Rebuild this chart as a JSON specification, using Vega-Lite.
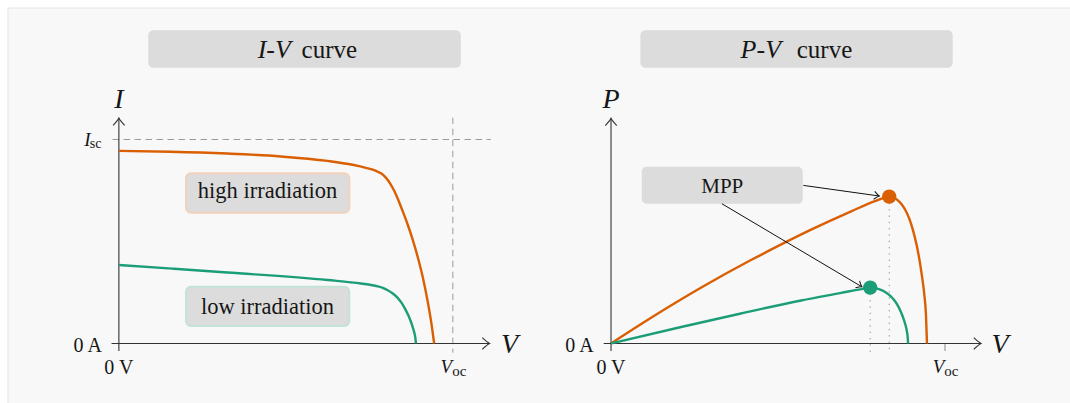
{
  "$schema": "https://vega.github.io/schema/vega-lite/v6.json",
  "background": "#ffffff",
  "padding": {"left": 7, "top": 7, "right": 0, "bottom": 0},
  "spacing": 0,
  "bounds": "flush",
  "config": {
    "view": {"fill": "#f8f8f8", "stroke": null},
    "text": {"font": "Liberation Serif", "color": "#161616"},
    "concat": {"spacing": 0}
  },
  "data": {"values": [{}]},
  "datasets": {
    "iv": [
      {"series": "high irradiation", "V": 0, "I": 0.944},
      {"series": "high irradiation", "V": 0.156, "I": 0.94},
      {"series": "high irradiation", "V": 0.325, "I": 0.931},
      {"series": "high irradiation", "V": 0.485, "I": 0.917},
      {"series": "high irradiation", "V": 0.625, "I": 0.895},
      {"series": "high irradiation", "V": 0.7, "I": 0.876},
      {"series": "high irradiation", "V": 0.74, "I": 0.861},
      {"series": "high irradiation", "V": 0.77, "I": 0.846},
      {"series": "high irradiation", "V": 0.785, "I": 0.834},
      {"series": "high irradiation", "V": 0.8, "I": 0.812},
      {"series": "high irradiation", "V": 0.812, "I": 0.785},
      {"series": "high irradiation", "V": 0.824, "I": 0.75},
      {"series": "high irradiation", "V": 0.836, "I": 0.706},
      {"series": "high irradiation", "V": 0.85, "I": 0.648},
      {"series": "high irradiation", "V": 0.865, "I": 0.582},
      {"series": "high irradiation", "V": 0.88, "I": 0.508},
      {"series": "high irradiation", "V": 0.895, "I": 0.423},
      {"series": "high irradiation", "V": 0.91, "I": 0.325},
      {"series": "high irradiation", "V": 0.924, "I": 0.212},
      {"series": "high irradiation", "V": 0.935, "I": 0.107},
      {"series": "high irradiation", "V": 0.944, "I": 0},
      {"series": "low irradiation", "V": 0, "I": 0.385},
      {"series": "low irradiation", "V": 0.16, "I": 0.367},
      {"series": "low irradiation", "V": 0.325, "I": 0.348},
      {"series": "low irradiation", "V": 0.625, "I": 0.311},
      {"series": "low irradiation", "V": 0.725, "I": 0.294},
      {"series": "low irradiation", "V": 0.775, "I": 0.28},
      {"series": "low irradiation", "V": 0.79, "I": 0.273},
      {"series": "low irradiation", "V": 0.805, "I": 0.261},
      {"series": "low irradiation", "V": 0.82, "I": 0.245},
      {"series": "low irradiation", "V": 0.834, "I": 0.225},
      {"series": "low irradiation", "V": 0.846, "I": 0.2},
      {"series": "low irradiation", "V": 0.857, "I": 0.17},
      {"series": "low irradiation", "V": 0.867, "I": 0.137},
      {"series": "low irradiation", "V": 0.878, "I": 0.09},
      {"series": "low irradiation", "V": 0.884, "I": 0.057},
      {"series": "low irradiation", "V": 0.8875, "I": 0.03},
      {"series": "low irradiation", "V": 0.8895, "I": 0}
    ],
    "pv": [
      {"series": "high irradiation", "V": 0, "P": 0},
      {"series": "high irradiation", "V": 0.12, "P": 0.126},
      {"series": "high irradiation", "V": 0.269, "P": 0.273},
      {"series": "high irradiation", "V": 0.419, "P": 0.409},
      {"series": "high irradiation", "V": 0.473, "P": 0.455},
      {"series": "high irradiation", "V": 0.599, "P": 0.558},
      {"series": "high irradiation", "V": 0.719, "P": 0.648},
      {"series": "high irradiation", "V": 0.79, "P": 0.698},
      {"series": "high irradiation", "V": 0.817, "P": 0.714},
      {"series": "high irradiation", "V": 0.833, "P": 0.72},
      {"series": "high irradiation", "V": 0.845, "P": 0.716},
      {"series": "high irradiation", "V": 0.858, "P": 0.703},
      {"series": "high irradiation", "V": 0.87, "P": 0.683},
      {"series": "high irradiation", "V": 0.882, "P": 0.652},
      {"series": "high irradiation", "V": 0.893, "P": 0.612},
      {"series": "high irradiation", "V": 0.904, "P": 0.556},
      {"series": "high irradiation", "V": 0.914, "P": 0.49},
      {"series": "high irradiation", "V": 0.923, "P": 0.415},
      {"series": "high irradiation", "V": 0.931, "P": 0.33},
      {"series": "high irradiation", "V": 0.938, "P": 0.24},
      {"series": "high irradiation", "V": 0.943, "P": 0.14},
      {"series": "high irradiation", "V": 0.946, "P": 0},
      {"series": "low irradiation", "V": 0, "P": 0},
      {"series": "low irradiation", "V": 0.21, "P": 0.081},
      {"series": "low irradiation", "V": 0.389, "P": 0.147},
      {"series": "low irradiation", "V": 0.569, "P": 0.211},
      {"series": "low irradiation", "V": 0.689, "P": 0.248},
      {"series": "low irradiation", "V": 0.754, "P": 0.268},
      {"series": "low irradiation", "V": 0.776, "P": 0.274},
      {"series": "low irradiation", "V": 0.788, "P": 0.2725},
      {"series": "low irradiation", "V": 0.8, "P": 0.268},
      {"series": "low irradiation", "V": 0.812, "P": 0.26},
      {"series": "low irradiation", "V": 0.824, "P": 0.249},
      {"series": "low irradiation", "V": 0.836, "P": 0.234},
      {"series": "low irradiation", "V": 0.847, "P": 0.214},
      {"series": "low irradiation", "V": 0.857, "P": 0.19},
      {"series": "low irradiation", "V": 0.866, "P": 0.162},
      {"series": "low irradiation", "V": 0.874, "P": 0.13},
      {"series": "low irradiation", "V": 0.88, "P": 0.1},
      {"series": "low irradiation", "V": 0.885, "P": 0.067},
      {"series": "low irradiation", "V": 0.888, "P": 0.035},
      {"series": "low irradiation", "V": 0.8895, "P": 0}
    ],
    "mpp": [
      {"series": "high irradiation", "V": 0.833, "P": 0.72},
      {"series": "low irradiation", "V": 0.776, "P": 0.274}
    ]
  },
  "hconcat": [
    {
      "width": 528,
      "height": 396,
      "layer": [
        {"mark": {"type": "rule", "stroke": "#e4e4e4", "strokeWidth": 1},
         "encoding": {"x": {"datum": -0.332, "type": "quantitative", "scale": {"domain": [-0.332, 1.249], "nice": false, "zero": false}, "axis": null},
                      "y": {"datum": -0.2966, "type": "quantitative", "scale": {"domain": [-0.2966, 1.6446], "nice": false, "zero": false}, "axis": null},
                      "y2": {"datum": 1.6446}}},
        {"mark": {"type": "rule", "stroke": "#e4e4e4", "strokeWidth": 1},
         "encoding": {"x": {"datum": -0.332, "type": "quantitative", "scale": {"domain": [-0.332, 1.249], "nice": false, "zero": false}, "axis": null},
                      "x2": {"datum": 1.249},
                      "y": {"datum": 1.6446, "type": "quantitative", "scale": {"domain": [-0.2966, 1.6446], "nice": false, "zero": false}, "axis": null}}},
        {"mark": {"type": "rect", "fill": "#dcdcdc", "cornerRadius": 5},
         "encoding": {"x": {"datum": 0.088, "type": "quantitative", "scale": {"domain": [-0.332, 1.249], "nice": false, "zero": false}, "axis": null},
                      "x2": {"datum": 1.024},
                      "y": {"datum": 1.535, "type": "quantitative", "scale": {"domain": [-0.2966, 1.6446], "nice": false, "zero": false}, "axis": null},
                      "y2": {"datum": 1.352}}},
        {"mark": {"type": "rect", "fill": "#dcdcdc", "cornerRadius": 5, "stroke": "#f3d2ba", "strokeWidth": 2},
         "encoding": {"x": {"datum": 0.201, "type": "quantitative", "scale": {"domain": [-0.332, 1.249], "nice": false, "zero": false}, "axis": null},
                      "x2": {"datum": 0.69},
                      "y": {"datum": 0.834, "type": "quantitative", "scale": {"domain": [-0.2966, 1.6446], "nice": false, "zero": false}, "axis": null},
                      "y2": {"datum": 0.641}}},
        {"mark": {"type": "rect", "fill": "#dcdcdc", "cornerRadius": 5, "stroke": "#c3e3d8", "strokeWidth": 2},
         "encoding": {"x": {"datum": 0.201, "type": "quantitative", "scale": {"domain": [-0.332, 1.249], "nice": false, "zero": false}, "axis": null},
                      "x2": {"datum": 0.69},
                      "y": {"datum": 0.278, "type": "quantitative", "scale": {"domain": [-0.2966, 1.6446], "nice": false, "zero": false}, "axis": null},
                      "y2": {"datum": 0.086}}},
        {"mark": {"type": "rule", "stroke": "#9a9a9a", "strokeWidth": 1, "strokeDash": [6.5, 4.5]},
         "encoding": {"x": {"datum": -0.019, "type": "quantitative", "scale": {"domain": [-0.332, 1.249], "nice": false, "zero": false}, "axis": null},
                      "x2": {"datum": 1.114},
                      "y": {"datum": 1.0, "type": "quantitative", "scale": {"domain": [-0.2966, 1.6446], "nice": false, "zero": false}, "axis": null}}},
        {"mark": {"type": "rule", "stroke": "#9a9a9a", "strokeWidth": 1, "strokeDash": [6.5, 4.5]},
         "encoding": {"x": {"datum": 1.0, "type": "quantitative", "scale": {"domain": [-0.332, 1.249], "nice": false, "zero": false}, "axis": null},
                      "y": {"datum": 1.107, "type": "quantitative", "scale": {"domain": [-0.2966, 1.6446], "nice": false, "zero": false}, "axis": null},
                      "y2": {"datum": -0.045}}},
        {"mark": {"type": "rule", "stroke": "#333333", "strokeWidth": 1.1},
         "encoding": {"x": {"datum": -0.022, "type": "quantitative", "scale": {"domain": [-0.332, 1.249], "nice": false, "zero": false}, "axis": null},
                      "x2": {"datum": 1.11},
                      "y": {"datum": 0, "type": "quantitative", "scale": {"domain": [-0.2966, 1.6446], "nice": false, "zero": false}, "axis": null}}},
        {"mark": {"type": "rule", "stroke": "#333333", "strokeWidth": 1.1},
         "encoding": {"x": {"datum": 0, "type": "quantitative", "scale": {"domain": [-0.332, 1.249], "nice": false, "zero": false}, "axis": null},
                      "y": {"datum": -0.037, "type": "quantitative", "scale": {"domain": [-0.2966, 1.6446], "nice": false, "zero": false}, "axis": null},
                      "y2": {"datum": 1.105}}},
        {"mark": {"type": "point", "shape": "M-1.26,-1Q-0.45,-0.22,0,0Q-0.45,0.22,-1.26,1", "filled": false, "stroke": "#333333", "strokeWidth": 1.1, "size": 134, "angle": 0, "opacity": 1},
         "encoding": {"x": {"datum": 1.11, "type": "quantitative", "scale": {"domain": [-0.332, 1.249], "nice": false, "zero": false}, "axis": null},
                      "y": {"datum": 0, "type": "quantitative", "scale": {"domain": [-0.2966, 1.6446], "nice": false, "zero": false}, "axis": null}}},
        {"mark": {"type": "point", "shape": "M-1.26,-1Q-0.45,-0.22,0,0Q-0.45,0.22,-1.26,1", "filled": false, "stroke": "#333333", "strokeWidth": 1.1, "size": 134, "angle": 270, "opacity": 1},
         "encoding": {"x": {"datum": 0, "type": "quantitative", "scale": {"domain": [-0.332, 1.249], "nice": false, "zero": false}, "axis": null},
                      "y": {"datum": 1.105, "type": "quantitative", "scale": {"domain": [-0.2966, 1.6446], "nice": false, "zero": false}, "axis": null}}},
        {"data": {"name": "iv"},
         "mark": {"type": "line", "interpolate": "monotone", "strokeWidth": 2.4},
         "encoding": {"x": {"field": "V", "type": "quantitative", "scale": {"domain": [-0.332, 1.249], "nice": false, "zero": false}, "axis": null},
                      "y": {"field": "I", "type": "quantitative", "scale": {"domain": [-0.2966, 1.6446], "nice": false, "zero": false}, "axis": null},
                      "color": {"field": "series", "type": "nominal", "scale": {"domain": ["high irradiation", "low irradiation"], "range": ["#d95f02", "#1b9e77"]}, "legend": null}}},
        {"mark": {"type": "text", "fontSize": 28, "fontStyle": "italic", "align": "center", "baseline": "alphabetic"},
         "encoding": {"x": {"datum": 0, "type": "quantitative", "scale": {"domain": [-0.332, 1.249], "nice": false, "zero": false}, "axis": null},
                      "y": {"datum": 1.154, "type": "quantitative", "scale": {"domain": [-0.2966, 1.6446], "nice": false, "zero": false}, "axis": null},
                      "text": {"value": "I"}}},
        {"mark": {"type": "text", "fontSize": 28, "fontStyle": "italic", "align": "center", "baseline": "alphabetic"},
         "encoding": {"x": {"datum": 1.17, "type": "quantitative", "scale": {"domain": [-0.332, 1.249], "nice": false, "zero": false}, "axis": null},
                      "y": {"datum": -0.047, "type": "quantitative", "scale": {"domain": [-0.2966, 1.6446], "nice": false, "zero": false}, "axis": null},
                      "text": {"value": "V"}}},
        {"mark": {"type": "text", "fontSize": 20, "align": "right", "baseline": "alphabetic"},
         "encoding": {"x": {"datum": -0.051, "type": "quantitative", "scale": {"domain": [-0.332, 1.249], "nice": false, "zero": false}, "axis": null},
                      "y": {"datum": -0.04, "type": "quantitative", "scale": {"domain": [-0.2966, 1.6446], "nice": false, "zero": false}, "axis": null},
                      "text": {"value": "0 A"}}},
        {"mark": {"type": "text", "fontSize": 20, "align": "center", "baseline": "alphabetic"},
         "encoding": {"x": {"datum": 0, "type": "quantitative", "scale": {"domain": [-0.332, 1.249], "nice": false, "zero": false}, "axis": null},
                      "y": {"datum": -0.151, "type": "quantitative", "scale": {"domain": [-0.2966, 1.6446], "nice": false, "zero": false}, "axis": null},
                      "text": {"value": "0 V"}}},
        {"mark": {"type": "text", "fontSize": 19, "fontStyle": "italic", "align": "right", "baseline": "alphabetic"},
         "encoding": {"x": {"datum": -0.085, "type": "quantitative", "scale": {"domain": [-0.332, 1.249], "nice": false, "zero": false}, "axis": null},
                      "y": {"datum": 0.968, "type": "quantitative", "scale": {"domain": [-0.2966, 1.6446], "nice": false, "zero": false}, "axis": null},
                      "text": {"value": "I"}}},
        {"mark": {"type": "text", "fontSize": 14, "align": "left", "baseline": "alphabetic"},
         "encoding": {"x": {"datum": -0.087, "type": "quantitative", "scale": {"domain": [-0.332, 1.249], "nice": false, "zero": false}, "axis": null},
                      "y": {"datum": 0.96, "type": "quantitative", "scale": {"domain": [-0.2966, 1.6446], "nice": false, "zero": false}, "axis": null},
                      "text": {"value": "sc"}}},
        {"mark": {"type": "text", "fontSize": 19, "fontStyle": "italic", "align": "right", "baseline": "alphabetic"},
         "encoding": {"x": {"datum": 0.998, "type": "quantitative", "scale": {"domain": [-0.332, 1.249], "nice": false, "zero": false}, "axis": null},
                      "y": {"datum": -0.143, "type": "quantitative", "scale": {"domain": [-0.2966, 1.6446], "nice": false, "zero": false}, "axis": null},
                      "text": {"value": "V"}}},
        {"mark": {"type": "text", "fontSize": 15, "align": "left", "baseline": "alphabetic"},
         "encoding": {"x": {"datum": 0.998, "type": "quantitative", "scale": {"domain": [-0.332, 1.249], "nice": false, "zero": false}, "axis": null},
                      "y": {"datum": -0.159, "type": "quantitative", "scale": {"domain": [-0.2966, 1.6446], "nice": false, "zero": false}, "axis": null},
                      "text": {"value": "oc"}}},
        {"mark": {"type": "text", "fontSize": 26, "fontStyle": "italic", "align": "right", "baseline": "alphabetic"},
         "encoding": {"x": {"datum": 0.515, "type": "quantitative", "scale": {"domain": [-0.332, 1.249], "nice": false, "zero": false}, "axis": null},
                      "y": {"datum": 1.398, "type": "quantitative", "scale": {"domain": [-0.2966, 1.6446], "nice": false, "zero": false}, "axis": null},
                      "text": {"value": "I-V"}}},
        {"mark": {"type": "text", "fontSize": 25, "align": "left", "baseline": "alphabetic"},
         "encoding": {"x": {"datum": 0.547, "type": "quantitative", "scale": {"domain": [-0.332, 1.249], "nice": false, "zero": false}, "axis": null},
                      "y": {"datum": 1.398, "type": "quantitative", "scale": {"domain": [-0.2966, 1.6446], "nice": false, "zero": false}, "axis": null},
                      "text": {"value": "curve"}}},
        {"mark": {"type": "text", "fontSize": 22.5, "align": "center", "baseline": "alphabetic"},
         "encoding": {"x": {"datum": 0.445, "type": "quantitative", "scale": {"domain": [-0.332, 1.249], "nice": false, "zero": false}, "axis": null},
                      "y": {"datum": 0.712, "type": "quantitative", "scale": {"domain": [-0.2966, 1.6446], "nice": false, "zero": false}, "axis": null},
                      "text": {"value": "high irradiation"}}},
        {"mark": {"type": "text", "fontSize": 22.5, "align": "center", "baseline": "alphabetic"},
         "encoding": {"x": {"datum": 0.445, "type": "quantitative", "scale": {"domain": [-0.332, 1.249], "nice": false, "zero": false}, "axis": null},
                      "y": {"datum": 0.146, "type": "quantitative", "scale": {"domain": [-0.2966, 1.6446], "nice": false, "zero": false}, "axis": null},
                      "text": {"value": "low irradiation"}}}
      ]
    },
    {
      "width": 535,
      "height": 396,
      "layer": [
        {"mark": {"type": "rule", "stroke": "#e4e4e4", "strokeWidth": 1},
         "encoding": {"x": {"datum": -0.2246, "type": "quantitative", "scale": {"domain": [-0.2246, 1.3772], "nice": false, "zero": false}, "axis": null},
                      "x2": {"datum": 1.3772},
                      "y": {"datum": 1.6446, "type": "quantitative", "scale": {"domain": [-0.2966, 1.6446], "nice": false, "zero": false}, "axis": null}}},
        {"mark": {"type": "rect", "fill": "#dcdcdc", "cornerRadius": 5},
         "encoding": {"x": {"datum": 0.088, "type": "quantitative", "scale": {"domain": [-0.2246, 1.3772], "nice": false, "zero": false}, "axis": null},
                      "x2": {"datum": 1.023},
                      "y": {"datum": 1.535, "type": "quantitative", "scale": {"domain": [-0.2966, 1.6446], "nice": false, "zero": false}, "axis": null},
                      "y2": {"datum": 1.352}}},
        {"mark": {"type": "rect", "fill": "#dcdcdc", "cornerRadius": 5},
         "encoding": {"x": {"datum": 0.092, "type": "quantitative", "scale": {"domain": [-0.2246, 1.3772], "nice": false, "zero": false}, "axis": null},
                      "x2": {"datum": 0.574},
                      "y": {"datum": 0.867, "type": "quantitative", "scale": {"domain": [-0.2966, 1.6446], "nice": false, "zero": false}, "axis": null},
                      "y2": {"datum": 0.685}}},
        {"mark": {"type": "rule", "stroke": "#888888", "strokeWidth": 1},
         "encoding": {"x": {"datum": 1.0, "type": "quantitative", "scale": {"domain": [-0.2246, 1.3772], "nice": false, "zero": false}, "axis": null},
                      "y": {"datum": 0, "type": "quantitative", "scale": {"domain": [-0.2966, 1.6446], "nice": false, "zero": false}, "axis": null},
                      "y2": {"datum": -0.037}}},
        {"data": {"name": "mpp"},
         "mark": {"type": "rule", "stroke": "#8c8c8c", "strokeWidth": 1, "strokeDash": [1.3, 5]},
         "encoding": {"x": {"field": "V", "type": "quantitative", "scale": {"domain": [-0.2246, 1.3772], "nice": false, "zero": false}, "axis": null},
                      "y": {"field": "P", "type": "quantitative", "scale": {"domain": [-0.2966, 1.6446], "nice": false, "zero": false}, "axis": null},
                      "y2": {"datum": -0.043}}},
        {"mark": {"type": "rule", "stroke": "#333333", "strokeWidth": 1.1},
         "encoding": {"x": {"datum": -0.022, "type": "quantitative", "scale": {"domain": [-0.2246, 1.3772], "nice": false, "zero": false}, "axis": null},
                      "x2": {"datum": 1.108},
                      "y": {"datum": 0, "type": "quantitative", "scale": {"domain": [-0.2966, 1.6446], "nice": false, "zero": false}, "axis": null}}},
        {"mark": {"type": "rule", "stroke": "#333333", "strokeWidth": 1.1},
         "encoding": {"x": {"datum": 0, "type": "quantitative", "scale": {"domain": [-0.2246, 1.3772], "nice": false, "zero": false}, "axis": null},
                      "y": {"datum": -0.037, "type": "quantitative", "scale": {"domain": [-0.2966, 1.6446], "nice": false, "zero": false}, "axis": null},
                      "y2": {"datum": 1.104}}},
        {"mark": {"type": "point", "shape": "M-1.26,-1Q-0.45,-0.22,0,0Q-0.45,0.22,-1.26,1", "filled": false, "stroke": "#333333", "strokeWidth": 1.1, "size": 134, "angle": 0, "opacity": 1},
         "encoding": {"x": {"datum": 1.108, "type": "quantitative", "scale": {"domain": [-0.2246, 1.3772], "nice": false, "zero": false}, "axis": null},
                      "y": {"datum": 0, "type": "quantitative", "scale": {"domain": [-0.2966, 1.6446], "nice": false, "zero": false}, "axis": null}}},
        {"mark": {"type": "point", "shape": "M-1.26,-1Q-0.45,-0.22,0,0Q-0.45,0.22,-1.26,1", "filled": false, "stroke": "#333333", "strokeWidth": 1.1, "size": 134, "angle": 270, "opacity": 1},
         "encoding": {"x": {"datum": 0, "type": "quantitative", "scale": {"domain": [-0.2246, 1.3772], "nice": false, "zero": false}, "axis": null},
                      "y": {"datum": 1.104, "type": "quantitative", "scale": {"domain": [-0.2966, 1.6446], "nice": false, "zero": false}, "axis": null}}},
        {"data": {"name": "pv"},
         "mark": {"type": "line", "interpolate": "monotone", "strokeWidth": 2.4},
         "encoding": {"x": {"field": "V", "type": "quantitative", "scale": {"domain": [-0.2246, 1.3772], "nice": false, "zero": false}, "axis": null},
                      "y": {"field": "P", "type": "quantitative", "scale": {"domain": [-0.2966, 1.6446], "nice": false, "zero": false}, "axis": null},
                      "color": {"field": "series", "type": "nominal", "scale": {"domain": ["high irradiation", "low irradiation"], "range": ["#d95f02", "#1b9e77"]}, "legend": null}}},
        {"data": {"name": "mpp"},
         "mark": {"type": "point", "shape": "circle", "filled": true, "size": 205, "opacity": 1},
         "encoding": {"x": {"field": "V", "type": "quantitative", "scale": {"domain": [-0.2246, 1.3772], "nice": false, "zero": false}, "axis": null},
                      "y": {"field": "P", "type": "quantitative", "scale": {"domain": [-0.2966, 1.6446], "nice": false, "zero": false}, "axis": null},
                      "color": {"field": "series", "type": "nominal", "scale": {"domain": ["high irradiation", "low irradiation"], "range": ["#d95f02", "#1b9e77"]}, "legend": null}}},
        {"mark": {"type": "rule", "stroke": "#111111", "strokeWidth": 1},
         "encoding": {"x": {"datum": 0.576, "type": "quantitative", "scale": {"domain": [-0.2246, 1.3772], "nice": false, "zero": false}, "axis": null},
                      "x2": {"datum": 0.803},
                      "y": {"datum": 0.775, "type": "quantitative", "scale": {"domain": [-0.2966, 1.6446], "nice": false, "zero": false}, "axis": null},
                      "y2": {"datum": 0.723}}},
        {"mark": {"type": "rule", "stroke": "#111111", "strokeWidth": 1},
         "encoding": {"x": {"datum": 0.332, "type": "quantitative", "scale": {"domain": [-0.2246, 1.3772], "nice": false, "zero": false}, "axis": null},
                      "x2": {"datum": 0.751},
                      "y": {"datum": 0.685, "type": "quantitative", "scale": {"domain": [-0.2966, 1.6446], "nice": false, "zero": false}, "axis": null},
                      "y2": {"datum": 0.278}}},
        {"mark": {"type": "point", "shape": "M-1.26,-1Q-0.45,-0.22,0,0Q-0.45,0.22,-1.26,1", "filled": false, "stroke": "#111111", "strokeWidth": 1, "size": 64, "angle": 8, "opacity": 1},
         "encoding": {"x": {"datum": 0.803, "type": "quantitative", "scale": {"domain": [-0.2246, 1.3772], "nice": false, "zero": false}, "axis": null},
                      "y": {"datum": 0.723, "type": "quantitative", "scale": {"domain": [-0.2966, 1.6446], "nice": false, "zero": false}, "axis": null}}},
        {"mark": {"type": "point", "shape": "M-1.26,-1Q-0.45,-0.22,0,0Q-0.45,0.22,-1.26,1", "filled": false, "stroke": "#111111", "strokeWidth": 1, "size": 64, "angle": 30.7, "opacity": 1},
         "encoding": {"x": {"datum": 0.751, "type": "quantitative", "scale": {"domain": [-0.2246, 1.3772], "nice": false, "zero": false}, "axis": null},
                      "y": {"datum": 0.278, "type": "quantitative", "scale": {"domain": [-0.2966, 1.6446], "nice": false, "zero": false}, "axis": null}}},
        {"mark": {"type": "text", "fontSize": 28, "fontStyle": "italic", "align": "center", "baseline": "alphabetic"},
         "encoding": {"x": {"datum": 0, "type": "quantitative", "scale": {"domain": [-0.2246, 1.3772], "nice": false, "zero": false}, "axis": null},
                      "y": {"datum": 1.154, "type": "quantitative", "scale": {"domain": [-0.2966, 1.6446], "nice": false, "zero": false}, "axis": null},
                      "text": {"value": "P"}}},
        {"mark": {"type": "text", "fontSize": 28, "fontStyle": "italic", "align": "center", "baseline": "alphabetic"},
         "encoding": {"x": {"datum": 1.165, "type": "quantitative", "scale": {"domain": [-0.2246, 1.3772], "nice": false, "zero": false}, "axis": null},
                      "y": {"datum": -0.047, "type": "quantitative", "scale": {"domain": [-0.2966, 1.6446], "nice": false, "zero": false}, "axis": null},
                      "text": {"value": "V"}}},
        {"mark": {"type": "text", "fontSize": 20, "align": "right", "baseline": "alphabetic"},
         "encoding": {"x": {"datum": -0.052, "type": "quantitative", "scale": {"domain": [-0.2246, 1.3772], "nice": false, "zero": false}, "axis": null},
                      "y": {"datum": -0.04, "type": "quantitative", "scale": {"domain": [-0.2966, 1.6446], "nice": false, "zero": false}, "axis": null},
                      "text": {"value": "0 A"}}},
        {"mark": {"type": "text", "fontSize": 20, "align": "center", "baseline": "alphabetic"},
         "encoding": {"x": {"datum": 0, "type": "quantitative", "scale": {"domain": [-0.2246, 1.3772], "nice": false, "zero": false}, "axis": null},
                      "y": {"datum": -0.151, "type": "quantitative", "scale": {"domain": [-0.2966, 1.6446], "nice": false, "zero": false}, "axis": null},
                      "text": {"value": "0 V"}}},
        {"mark": {"type": "text", "fontSize": 19, "fontStyle": "italic", "align": "right", "baseline": "alphabetic"},
         "encoding": {"x": {"datum": 0.998, "type": "quantitative", "scale": {"domain": [-0.2246, 1.3772], "nice": false, "zero": false}, "axis": null},
                      "y": {"datum": -0.143, "type": "quantitative", "scale": {"domain": [-0.2966, 1.6446], "nice": false, "zero": false}, "axis": null},
                      "text": {"value": "V"}}},
        {"mark": {"type": "text", "fontSize": 15, "align": "left", "baseline": "alphabetic"},
         "encoding": {"x": {"datum": 0.998, "type": "quantitative", "scale": {"domain": [-0.2246, 1.3772], "nice": false, "zero": false}, "axis": null},
                      "y": {"datum": -0.159, "type": "quantitative", "scale": {"domain": [-0.2966, 1.6446], "nice": false, "zero": false}, "axis": null},
                      "text": {"value": "oc"}}},
        {"mark": {"type": "text", "fontSize": 26, "fontStyle": "italic", "align": "right", "baseline": "alphabetic"},
         "encoding": {"x": {"datum": 0.509, "type": "quantitative", "scale": {"domain": [-0.2246, 1.3772], "nice": false, "zero": false}, "axis": null},
                      "y": {"datum": 1.398, "type": "quantitative", "scale": {"domain": [-0.2966, 1.6446], "nice": false, "zero": false}, "axis": null},
                      "text": {"value": "P-V"}}},
        {"mark": {"type": "text", "fontSize": 25, "align": "left", "baseline": "alphabetic"},
         "encoding": {"x": {"datum": 0.556, "type": "quantitative", "scale": {"domain": [-0.2246, 1.3772], "nice": false, "zero": false}, "axis": null},
                      "y": {"datum": 1.398, "type": "quantitative", "scale": {"domain": [-0.2966, 1.6446], "nice": false, "zero": false}, "axis": null},
                      "text": {"value": "curve"}}},
        {"mark": {"type": "text", "fontSize": 21, "align": "center", "baseline": "alphabetic"},
         "encoding": {"x": {"datum": 0.333, "type": "quantitative", "scale": {"domain": [-0.2246, 1.3772], "nice": false, "zero": false}, "axis": null},
                      "y": {"datum": 0.739, "type": "quantitative", "scale": {"domain": [-0.2966, 1.6446], "nice": false, "zero": false}, "axis": null},
                      "text": {"value": "MPP"}}}
      ]
    }
  ]
}
